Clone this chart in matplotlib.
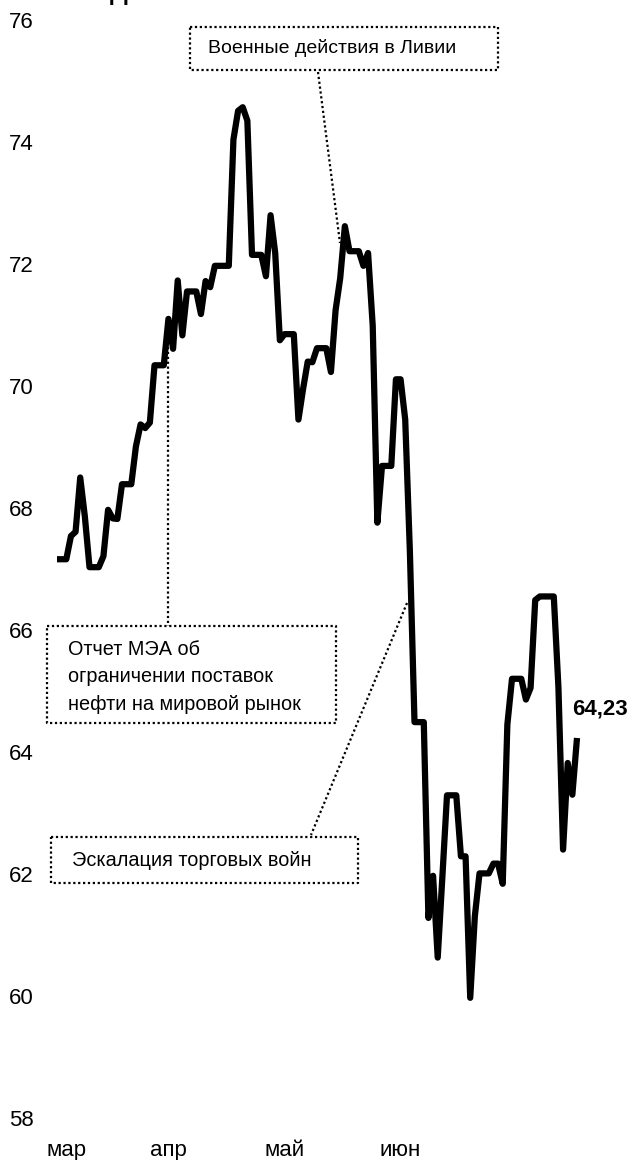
import matplotlib
matplotlib.use("Agg")
import matplotlib.pyplot as plt
import pandas as pd

# ---- data ----
start_date = "2019-03-15"
prices = [
    67.16, 67.16, 67.16, 67.54, 67.61, 68.50, 67.86, 67.03, 67.03, 67.03,
    67.21, 67.97, 67.83, 67.82, 68.39, 68.39, 68.39, 69.01, 69.37, 69.31,
    69.40, 70.34, 70.34, 70.34, 71.10, 70.61, 71.73, 70.83, 71.55, 71.55,
    71.55, 71.18, 71.72, 71.62, 71.97, 71.97, 71.97, 71.97, 74.04, 74.51,
    74.57, 74.35, 72.15, 72.15, 72.15, 71.80, 72.80, 72.18, 70.75, 70.85,
    70.85, 70.85, 69.45, 69.95, 70.40, 70.39, 70.62, 70.62, 70.62, 70.23,
    71.24, 71.77, 72.62, 72.21, 72.21, 72.21, 71.97, 72.18, 70.99, 67.76,
    68.69, 68.69, 68.69, 70.11, 70.11, 69.45, 67.30, 64.49, 64.49, 64.49,
    61.28, 61.97, 60.63, 61.95, 63.29, 63.29, 63.29, 62.29, 62.29, 59.97,
    61.31, 62.01, 62.01, 62.01, 62.17, 62.17, 61.84, 64.45, 65.20, 65.20,
    65.20, 64.86, 65.05, 66.49, 66.55, 66.55, 66.55, 66.55, 65.06, 62.40,
    63.82, 63.30, 64.23,
]
dates = pd.date_range(start_date, periods=len(prices), freq="D")

y_ticks = [58, 60, 62, 64, 66, 68, 70, 72, 74, 76]
month_labels = ["мар", "апр", "май", "июн"]
month_label_dates = ["2019-03-17", "2019-04-08", "2019-05-03", "2019-05-28"]

last_label = "64,23"

ann_libya = "Военные действия в Ливии"
ann_iea = "Отчет МЭА об\nограничении поставок\nнефти на мировой рынок"
ann_trade = "Эскалация торговых войн"

# ---- figure ----
W, H = 631, 1160
DPI = 100
fig = plt.figure(figsize=(W / DPI, H / DPI), dpi=DPI)
FONT = ["Liberation Sans", "DejaVu Sans"]


def px(x, y):
    """pixel (from top-left) -> figure fraction"""
    return x / W, 1 - y / H


ax_l, ax_r = 57, 577
ax_t, ax_b = 20, 1118
ax = fig.add_axes([ax_l / W, 1 - ax_b / H, (ax_r - ax_l) / W, (ax_b - ax_t) / H])
ax.set_xlim(dates[0], dates[-1])
ax.set_ylim(58, 76)
ax.plot(dates, prices, color="black", lw=4.5, solid_joinstyle="round",
        solid_capstyle="butt", clip_on=False, zorder=3)

for s in ax.spines.values():
    s.set_visible(False)
ax.set_yticks(y_ticks)
ax.set_yticklabels([str(v) for v in y_ticks], fontfamily=FONT, fontsize=16)
ax.tick_params(axis="y", length=0, pad=17)
ax.set_xticks(pd.to_datetime(month_label_dates))
ax.set_xticklabels(month_labels, fontfamily=FONT, fontsize=16)
ax.tick_params(axis="x", length=0, pad=16)
ax.patch.set_visible(False)

# last value label
fig.text(*px(572, 709), last_label, fontfamily=FONT, fontsize=16,
         fontweight="bold", ha="left", va="center")

# clipped title remnant at top (the reference shows only its bottom edge)
fig.text(*px(110, 0), "Д", fontfamily=FONT, fontsize=18, fontweight="bold",
         ha="left", va="baseline")


def dotted_box(x0, y0, x1, y1):
    xs = [x0, x1, x1, x0, x0]
    ys = [y0, y0, y1, y1, y0]
    fig.add_artist(plt.Line2D([x / W for x in xs], [1 - y / H for y in ys],
                              transform=fig.transFigure, color="black",
                              lw=1.6, linestyle=(0, (1, 1.2))))


def leader(x0, y0, x1, y1):
    fig.add_artist(plt.Line2D([x0 / W, x1 / W], [1 - y0 / H, 1 - y1 / H],
                              transform=fig.transFigure, color="black",
                              lw=1.6, linestyle=(0, (1, 1.2))))


# Libya
dotted_box(190, 27, 498, 70)
fig.text(*px(208, 48), ann_libya, fontfamily=FONT, fontsize=14, ha="left", va="center")
leader(318, 72, 340, 243)

# IEA
dotted_box(47, 626, 336, 723)
fig.text(*px(68, 677), ann_iea, fontfamily=FONT, fontsize=14.3, ha="left", va="center",
         linespacing=1.55)
leader(168, 347, 168, 626)

# trade wars
dotted_box(51, 837, 358, 883)
fig.text(*px(72, 860), ann_trade, fontfamily=FONT, fontsize=14.3, ha="left", va="center")
leader(407, 603, 311, 835)

fig.savefig("out.png", dpi=DPI)
